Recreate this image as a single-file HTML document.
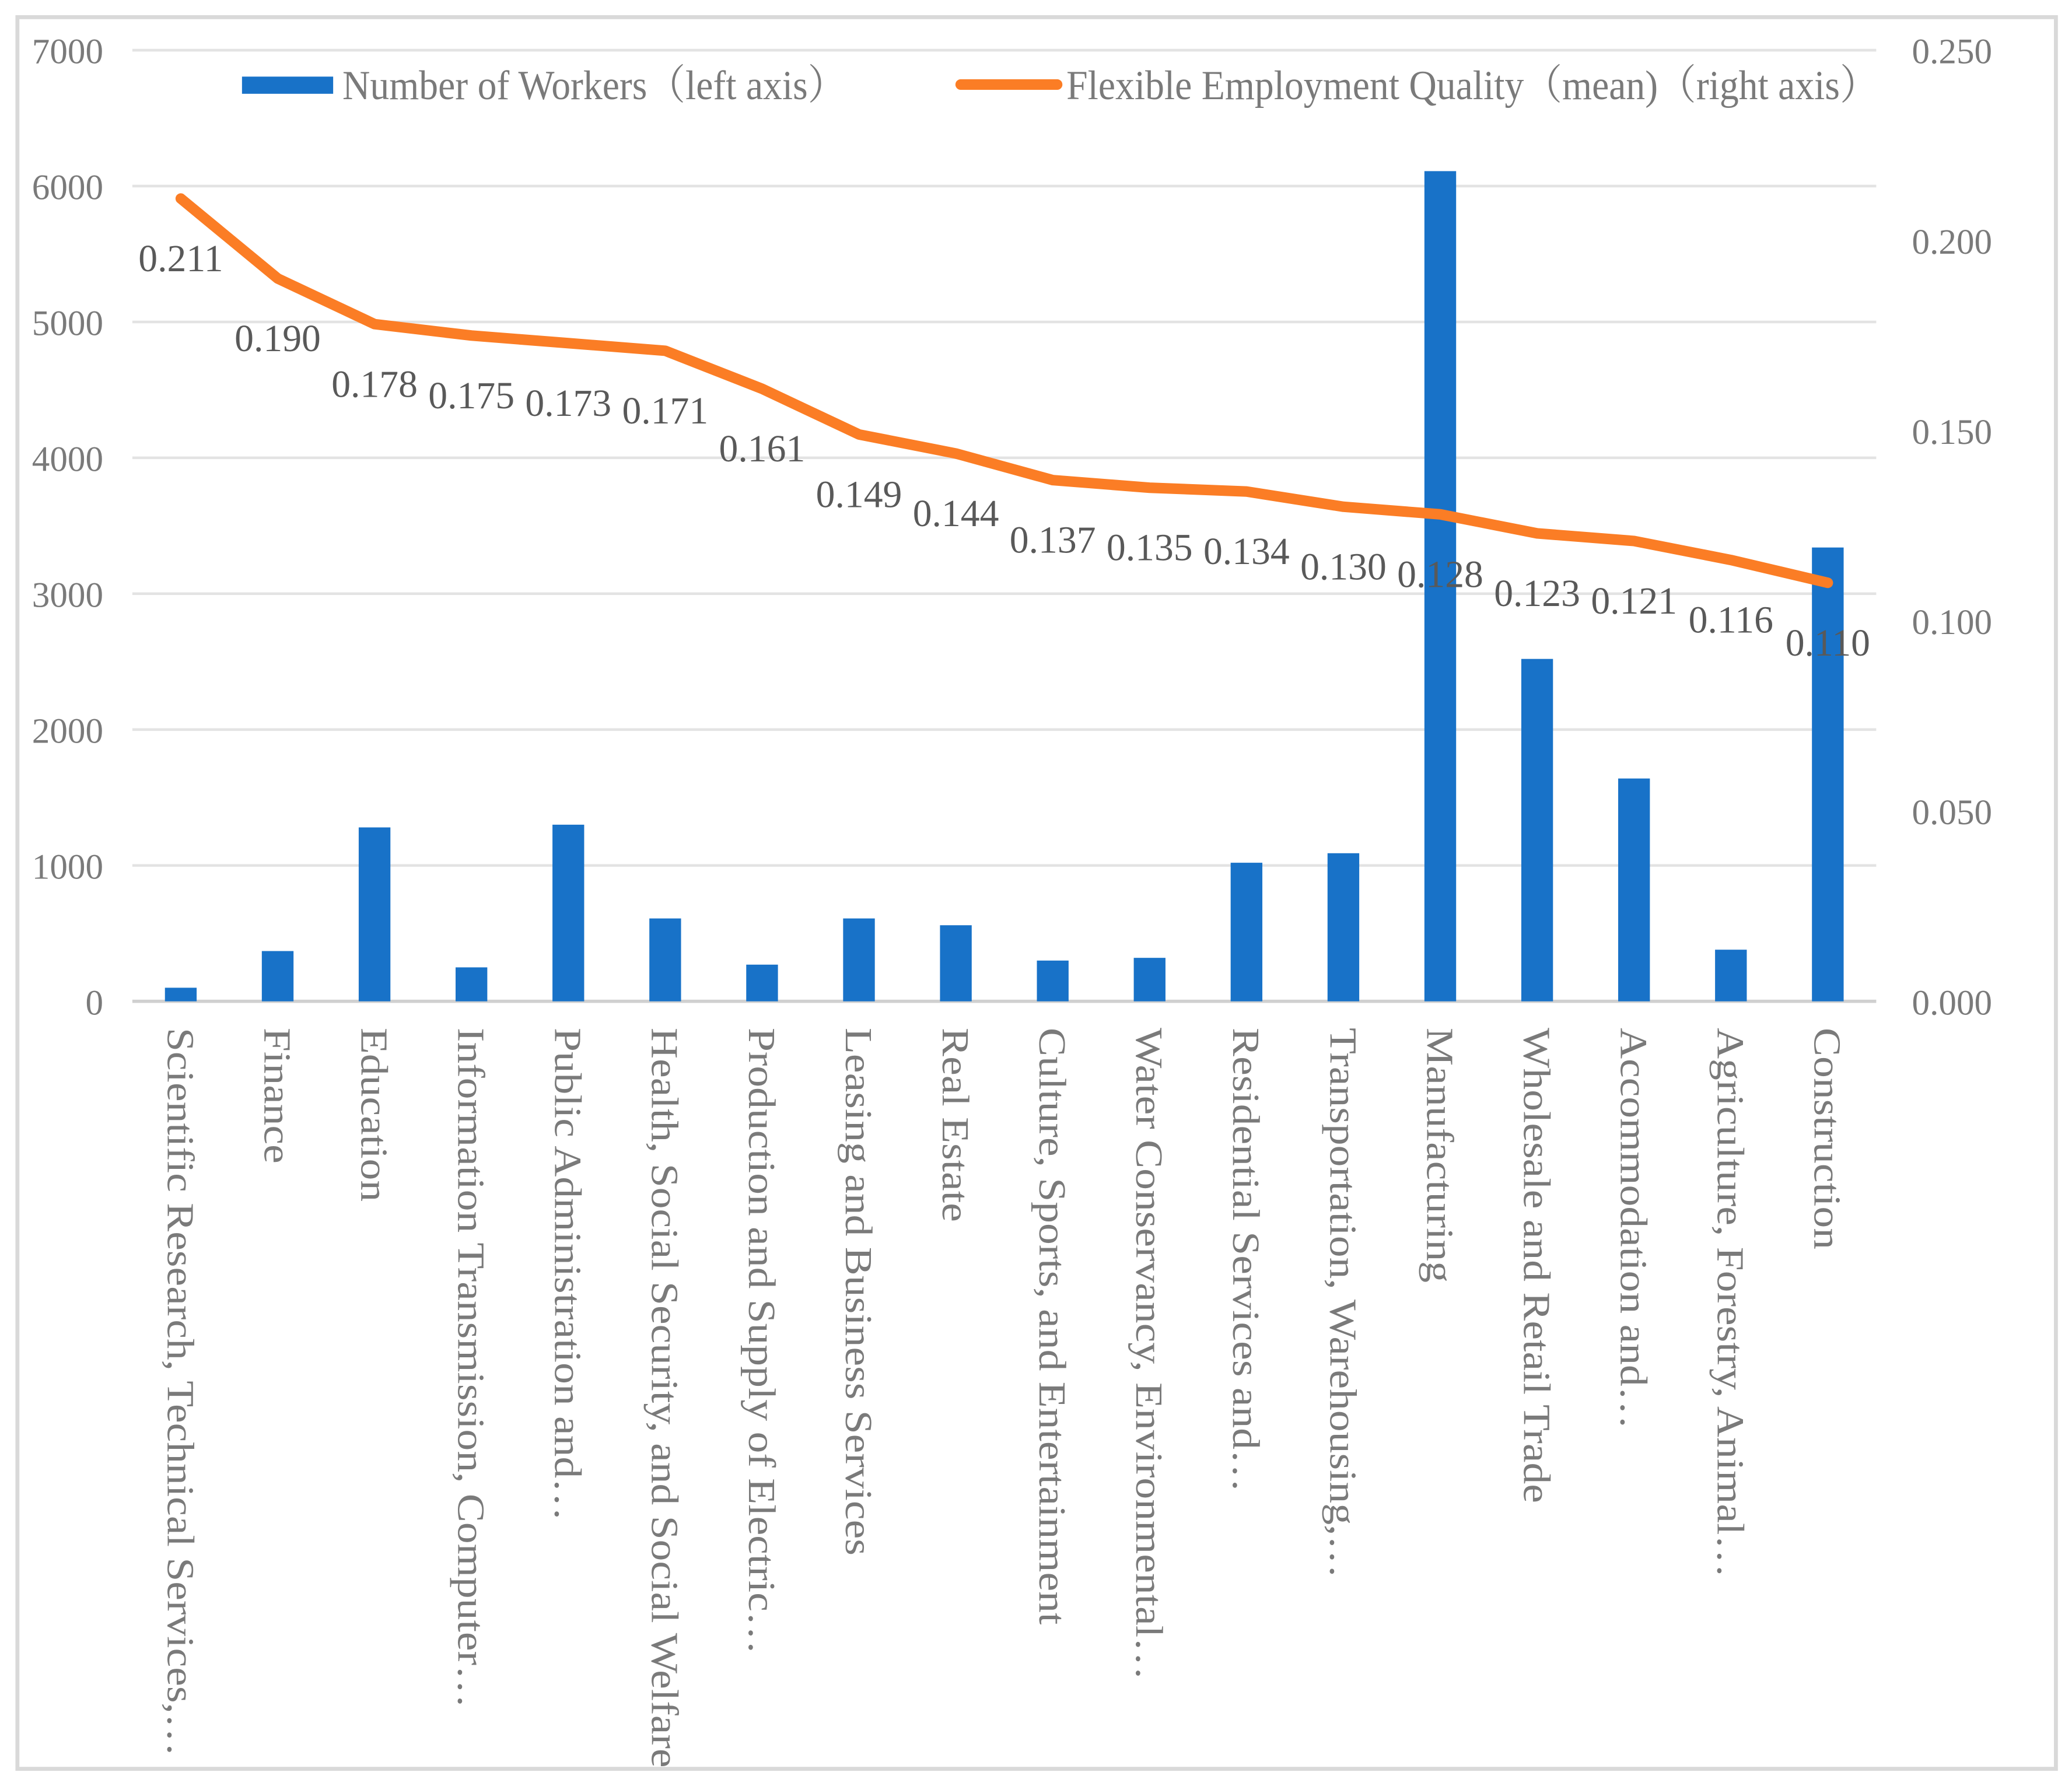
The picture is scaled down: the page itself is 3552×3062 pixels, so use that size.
<!DOCTYPE html>
<html><head><meta charset="utf-8"><style>
html,body{margin:0;padding:0;background:#fff;}
svg{display:block;}
text{font-family:"Liberation Serif","Noto Serif CJK SC",serif;}
</style></head><body>
<svg id="chart" width="3552" height="3062" viewBox="0 0 1568 1352" xmlns="http://www.w3.org/2000/svg">
<rect x="13" y="13" width="1543" height="1326" fill="#fff" stroke="#d9d9d9" stroke-width="3"/>
<g id="grid"></g><g id="bars"></g><g id="line"></g><g id="labels"></g>
<g>
<rect x="183" y="58" width="69" height="13" fill="#1872c8"/>
<text x="259" y="75" font-size="29" fill="#7a7a7a" transform="translate(259,75) scale(1,1.08) translate(-259,-75)">Number of Workers（left axis）</text>
<line x1="727" y1="64" x2="800" y2="64" stroke="#fb7d25" stroke-width="8" stroke-linecap="round"/>
<text x="807" y="75" font-size="29" fill="#7a7a7a" transform="translate(807,75) scale(1,1.08) translate(-807,-75)">Flexible Employment Quality（mean)（right axis）</text>
</g>
</svg>
<script>
const categories=["Scientific Research, Technical Services,…","Finance","Education","Information Transmission, Computer…","Public Administration and…","Health, Social Security, and Social Welfare","Production and Supply of Electric…","Leasing and Business Services","Real Estate","Culture, Sports, and Entertainment","Water Conservancy, Environmental…","Residential Services and…","Transportation, Warehousing,…","Manufacturing","Wholesale and Retail Trade","Accommodation and…","Agriculture, Forestry, Animal…","Construction"];
const workers=[100,370,1280,250,1300,610,270,610,560,300,320,1020,1090,6110,2520,1640,380,3340];
const quality=[0.211,0.190,0.178,0.175,0.173,0.171,0.161,0.149,0.144,0.137,0.135,0.134,0.130,0.128,0.123,0.121,0.116,0.110];
const leftTicks=[0,1000,2000,3000,4000,5000,6000,7000];
const rightTicks=["0.000","0.050","0.100","0.150","0.200","0.250"];
const NS="http://www.w3.org/2000/svg";
const X0=100,X1=1420,Y0=758,Y1=38;
const bw=(X1-X0)/categories.length;
const xC=i=>X0+bw*(i+0.5);
const yL=v=>Y0-(v/7000)*(Y0-Y1);
const yR=v=>Y0-(v/0.25)*(Y0-Y1);
function mk(t,a,p){const e=document.createElementNS(NS,t);for(const k in a)e.setAttribute(k,a[k]);p.appendChild(e);return e;}
const grid=document.getElementById('grid'),bars=document.getElementById('bars'),line=document.getElementById('line'),labels=document.getElementById('labels');
leftTicks.forEach(v=>{
 const l=mk('line',{x1:X0,x2:X1,y1:yL(v),y2:yL(v),stroke:v===0?'#d0d0d0':'#e3e3e3','stroke-width':v===0?2.5:2},grid);
 
 
 const t=mk('text',{x:78,y:yL(v)+10,'text-anchor':'end','font-size':27,fill:'#7a7a7a'},labels);
 t.textContent=v;
 
 
});
rightTicks.forEach(s=>{
 const t=mk('text',{x:1447,y:yR(parseFloat(s))+10,'font-size':27,fill:'#7a7a7a'},labels);
 t.textContent=s;
 
 
});
workers.forEach((v,i)=>{
 const r=mk('rect',{x:xC(i)-12,y:yL(v),width:24,height:Y0-yL(v),fill:'#1872c8'},bars);
 
 
});
categories.forEach((c,i)=>{
 const t=mk('text',{transform:`translate(${xC(i)-10},778) rotate(90) scale(1.12,1)`,'font-size':29,fill:'#7a7a7a'},labels);
 t.textContent=c;
 
 
});
const pts=quality.map((v,i)=>xC(i)+','+yR(v)).join(' ');
const pl=mk('polyline',{points:pts,fill:'none',stroke:'#fb7d25','stroke-width':8,'stroke-linejoin':'round','stroke-linecap':'round'},line);


quality.forEach((v,i)=>{
 const t=mk('text',{x:xC(i),y:yR(v)+55,'text-anchor':'middle','font-size':29,fill:'#595959'},labels);
 t.textContent=v.toFixed(3);
 
 
});
</script>
</body></html>
